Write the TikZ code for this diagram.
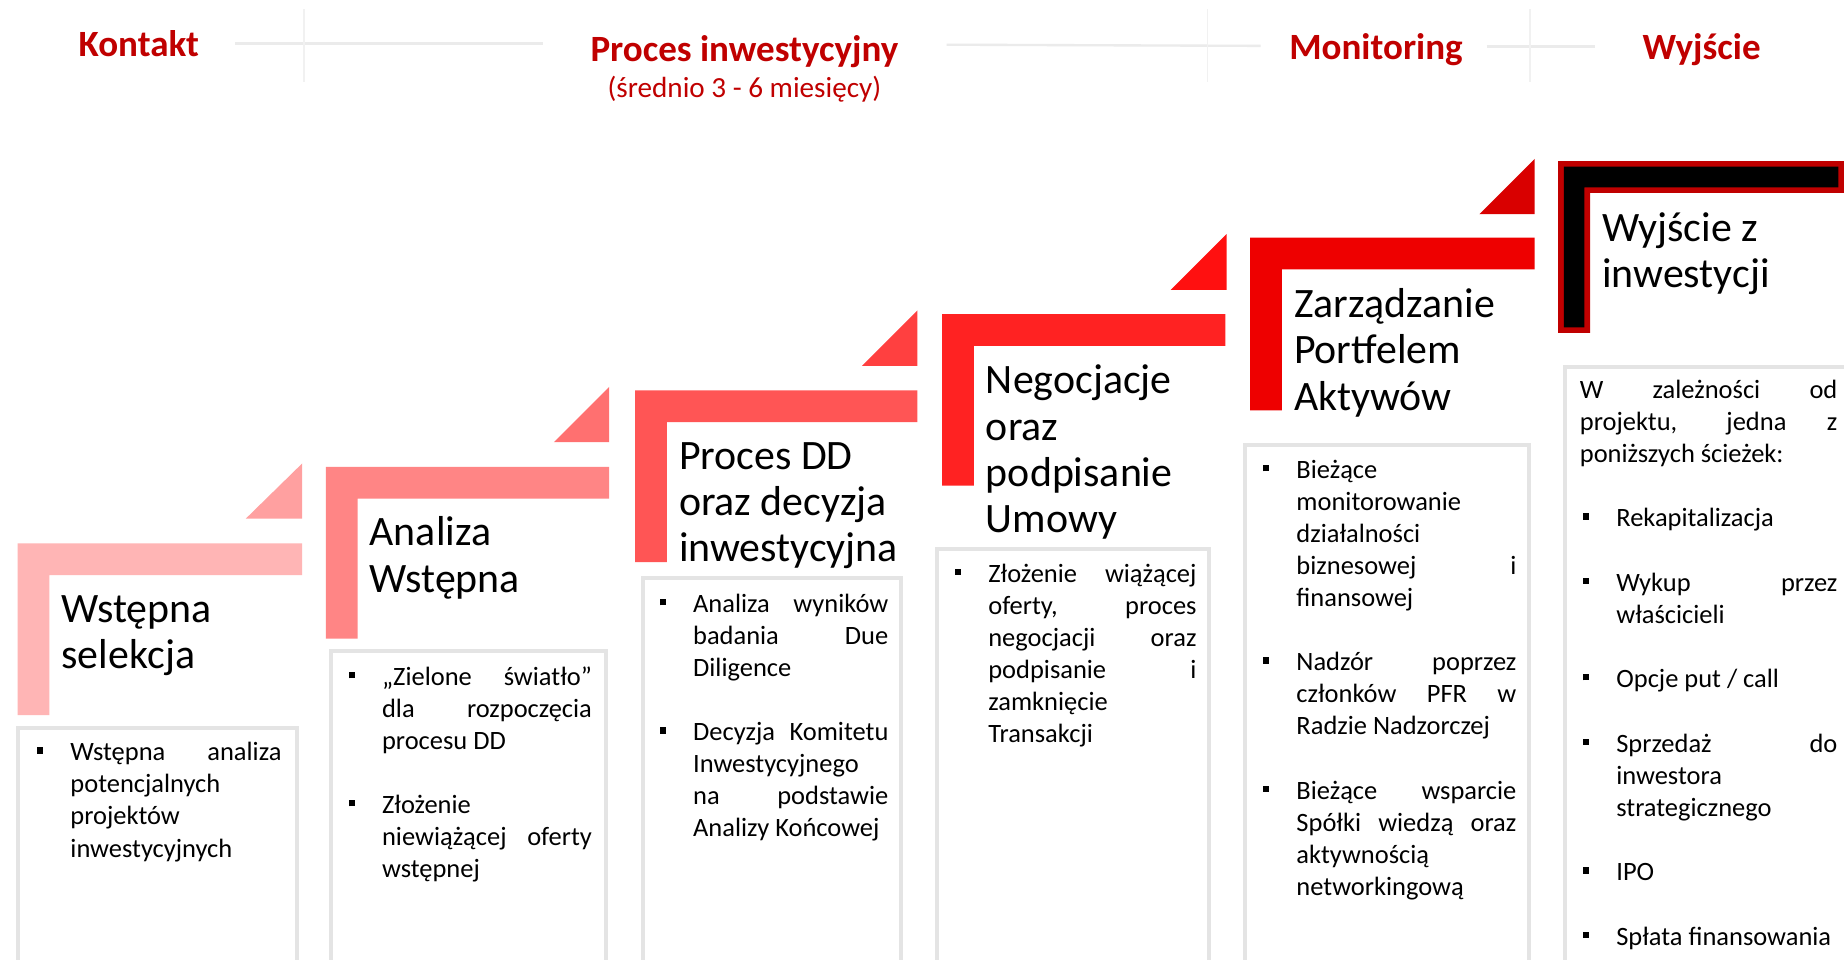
\documentclass[tikz,border=0pt]{standalone}
\usepackage{fontspec}
\setmainfont{Carlito}

\definecolor{hdrred}{HTML}{C00000}
\definecolor{guidegray}{HTML}{EBEBEB}
\definecolor{cardgray}{HTML}{E4E4E4}
\definecolor{stepA}{HTML}{FFB5B5}
\definecolor{triA}{HTML}{FFA0A0}
\definecolor{stepB}{HTML}{FF8585}
\definecolor{triB}{HTML}{FF7070}
\definecolor{stepC}{HTML}{FF5555}
\definecolor{triC}{HTML}{FF4040}
\definecolor{stepD}{HTML}{FF2222}
\definecolor{triD}{HTML}{FF1010}
\definecolor{stepE}{HTML}{EE0000}
\definecolor{triE}{HTML}{D90000}

% card text helpers: bullet square, bulleted / continuation lines, justified (s) or plain
\newlength\cardtw
\newlength\cardind
\setlength\cardind{14.25pt}
\newcommand\bsq{\rule[3.1pt]{2.6pt}{2.6pt}}
\newcommand\itemS[1]{\hbox{\hbox to\cardind{\bsq\hfil}\makebox[\cardtw][s]{#1}}}
\newcommand\itemP[1]{\hbox{\hbox to\cardind{\bsq\hfil}#1}}
\newcommand\lineS[1]{\hbox{\hskip\cardind\makebox[\cardtw][s]{#1}}}
\newcommand\lineP[1]{\hbox{\hskip\cardind #1}}
\newcommand\blankline{\hbox{}}
\newcommand\cardtext[2]{\setlength\cardtw{#1}\vtop{\lineskiplimit=-50pt #2}}
\newcommand\titlelines[1]{\vtop{\lineskiplimit=-50pt #1}}

\tikzset{
  hdr/.style={font=\fontsize{15.75}{18}\selectfont\bfseries, text=hdrred, inner sep=0pt, anchor=base},
  subhdr/.style={font=\fontsize{12.4}{14}\selectfont, text=hdrred, inner sep=0pt, anchor=base},
  guide/.style={draw=guidegray, line width=1pt},
  vguide/.style={draw=guidegray!70, line width=0.6pt},
  ttl/.style={font=\fontsize{17.8}{19.7}\selectfont, inner sep=0pt, anchor=base west},
  body/.style={font=\fontsize{11.25}{13.62}\selectfont, inner sep=0pt, anchor=base west},
  card/.style={draw=cardgray, line width=1.7pt, fill=white},
}

\begin{document}
\begin{tikzpicture}[x=0.5pt, y=-0.5pt]
\useasboundingbox (0,0) rectangle (1568,816);
\clip (0,0) rectangle (1568,816);
\fill[white] (0,0) rectangle (1568,816);

% ---- phase header ----
\draw[guide] (200,37) -- (462,37);
\draw[vguide] (258.5,8) -- (258.5,70);
\draw[guide] (805,38) -- (1072,39);
\draw[vguide] (1027,8) -- (1027,70);
\draw[guide] (1264,39.5) -- (1356,39.5);
\draw[vguide] (1301,8) -- (1301,70);

\node[hdr] (hkontakt) at (118,48) {Kontakt};
\node[hdr] (hproces) at (633,52) {Proces inwestycyjny};
\node[subhdr] (hczas) at (633,83) {(średnio 3 - 6 miesięcy)};
\node[hdr] (hmonit) at (1170,50.5) {Monitoring};
\node[hdr] (hwyjscie) at (1447,50.5) {Wyjście};

% ---- step brackets and triangles ----
\fill[stepA] (15,462) -- (257,462) -- (257,489) -- (42,489) -- (42,608) -- (15,608) -- cycle;
\fill[triA] (209,441) -- (257,441) -- (257,394) -- cycle;

\fill[stepB] (277,397) -- (518,397) -- (518,424) -- (304,424) -- (304,543) -- (277,543) -- cycle;
\fill[triB] (471,376) -- (518,376) -- (518,329) -- cycle;

\fill[stepC] (540,332) -- (780,332) -- (780,359) -- (567,359) -- (567,478) -- (540,478) -- cycle;
\fill[triC] (733,311) -- (780,311) -- (780,264) -- cycle;

\fill[stepD] (801,267) -- (1042,267) -- (1042,294) -- (828,294) -- (828,413) -- (801,413) -- cycle;
\fill[triD] (995.5,246.5) -- (1043,246.5) -- (1043,199) -- cycle;

\fill[stepE] (1063,202) -- (1305,202) -- (1305,229) -- (1090,229) -- (1090,349) -- (1063,349) -- cycle;
\fill[triE] (1258,182) -- (1305,182) -- (1305,135) -- cycle;

\fill[hdrred] (1325,137) -- (1568,137) -- (1568,164) -- (1352,164) -- (1352,283) -- (1325,283) -- cycle;
\fill[black] (1329.7,141.7) -- (1563.3,141.7) -- (1563.3,159.3) -- (1347.3,159.3) -- (1347.3,278.3) -- (1329.7,278.3) -- cycle;

% ---- step titles ----
\node[ttl] (t1) at (52,529) {\titlelines{\hbox{Wstępna}\hbox{selekcja}}};
\node[ttl] (t2) at (314,464) {\titlelines{\hbox{Analiza}\hbox{Wstępna}}};
\node[ttl] (t3) at (577,399) {\titlelines{\hbox{Proces DD}\hbox{oraz decyzja}\hbox{inwestycyjna}}};
\node[ttl] (t4) at (838,335) {\titlelines{\hbox{Negocjacje}\hbox{oraz}\hbox{podpisanie}\hbox{Umowy}}};
\node[ttl] (t5) at (1100,270) {\titlelines{\hbox{Zarządzanie}\hbox{Portfelem}\hbox{Aktywów}}};
\node[ttl] (t6) at (1362,205) {\titlelines{\hbox{Wyjście z}\hbox{inwestycji}}};

% ---- cards ----
\draw[card] (15.7,618.7) rectangle (252.3,840);
\draw[card] (281.7,553.7) rectangle (515.3,840);
\draw[card] (546.7,491.7) rectangle (766.3,840);
\draw[card] (796.7,466.7) rectangle (1028.3,840);
\draw[card] (1058.7,378.7) rectangle (1300.3,840);
\draw[card] (1330.7,311.7) rectangle (1600,840);

% ---- card contents ----
\node[body] (b1) at (31,647) {\cardtext{89.75pt}{%
  \itemS{Wstępna analiza}
  \lineP{potencjalnych}
  \lineP{projektów}
  \lineP{inwestycyjnych}}};

\node[body] (b2) at (296,583) {\cardtext{89.2pt}{%
  \itemS{„Zielone światło”}
  \lineS{dla rozpoczęcia}
  \lineP{procesu DD}
  \blankline
  \itemP{Złożenie}
  \lineS{niewiążącej oferty}
  \lineP{wstępnej}}};

\node[body] (b3) at (560.5,521) {\cardtext{83pt}{%
  \itemS{Analiza wyników}
  \lineS{badania Due}
  \lineP{Diligence}
  \blankline
  \itemS{Decyzja Komitetu}
  \lineP{Inwestycyjnego}
  \lineS{na podstawie}
  \lineP{Analizy Końcowej}}};

\node[body] (b4) at (811.5,495) {\cardtext{88.5pt}{%
  \itemS{Złożenie wiążącej}
  \lineS{oferty, proces}
  \lineS{negocjacji oraz}
  \lineS{podpisanie i}
  \lineP{zamknięcie}
  \lineP{Transakcji}}};

\node[body] (b5) at (1073.5,407) {\cardtext{93.5pt}{%
  \itemP{Bieżące}
  \lineP{monitorowanie}
  \lineP{działalności}
  \lineS{biznesowej i}
  \lineP{finansowej}
  \blankline
  \itemS{Nadzór poprzez}
  \lineS{członków PFR w}
  \lineP{Radzie Nadzorczej}
  \blankline
  \itemS{Bieżące wsparcie}
  \lineS{Spółki wiedzą oraz}
  \lineP{aktywnością}
  \lineP{networkingową}}};

\node[body] (b6intro) at (1343,339) {\setlength\cardind{0pt}\cardtext{109.5pt}{%
  \lineS{W zależności od}
  \lineS{projektu, jedna z}
  \lineP{poniższych ścieżek:}}};

\node[body, font=\fontsize{11.25}{13.68}\selectfont] (b6) at (1345.5,448) {\cardtext{94pt}{%
  \itemP{Rekapitalizacja}
  \blankline
  \itemS{Wykup przez}
  \lineP{właścicieli}
  \blankline
  \itemP{Opcje put / call}
  \blankline
  \itemS{Sprzedaż do}
  \lineP{inwestora}
  \lineP{strategicznego}
  \blankline
  \itemP{IPO}
  \blankline
  \itemP{Spłata finansowania}}};
\end{tikzpicture}
\end{document}
